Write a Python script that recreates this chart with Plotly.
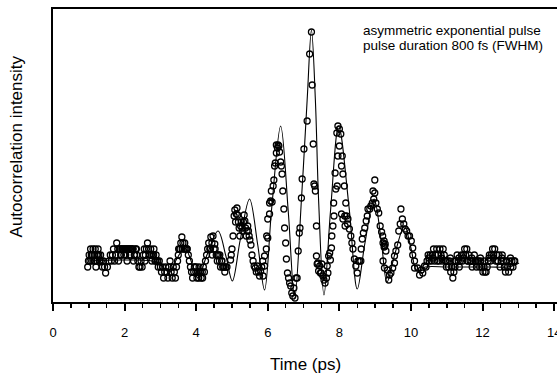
import plotly.graph_objects as go

# ---------------- measured data (arbitrary intensity units) ----------------
data_x = [
    # 1.0 - 1.45
    0.97, 0.99, 1.01, 1.03, 1.05, 1.08, 1.10, 1.12, 1.14, 1.16, 1.18, 1.20, 1.22, 1.24, 1.26, 1.28, 1.30, 1.33, 1.35, 1.38, 1.41, 1.44,
    1.07, 1.15, 1.23, 1.31,
    # 1.47 - 3.0
    1.47, 1.52, 1.56, 1.60, 1.63, 1.66, 1.69, 1.72, 1.75, 1.78, 1.81, 1.83, 1.86, 1.89, 1.92, 1.95, 1.98, 2.01, 2.04, 2.07,
    2.10, 2.13, 2.16, 2.19, 2.22, 2.25, 2.28, 2.31, 2.34, 2.37, 2.40, 2.43, 2.46, 2.49, 2.52, 2.55, 2.58, 2.61, 2.64, 2.67,
    2.70, 2.73, 2.76, 2.79, 2.82, 2.85, 2.88, 2.91, 2.94, 2.97, 3.00,
    1.88, 1.94, 2.00, 2.06, 2.12, 2.18, 2.24, 1.91, 2.03, 2.15, 2.27, 2.33, 2.57, 2.69, 2.75, 2.81, 2.87, 2.93,
    # 3.0 - 4.3
    3.03, 3.06, 3.09, 3.12, 3.15, 3.18, 3.21, 3.24, 3.27, 3.30, 3.33, 3.36, 3.39, 3.42, 3.45, 3.48, 3.51, 3.54, 3.57, 3.60,
    3.63, 3.66, 3.69, 3.72, 3.75, 3.78, 3.81, 3.84, 3.87, 3.90, 3.93, 3.96, 3.99, 4.02, 4.05, 4.08, 4.11, 4.14, 4.17, 4.20,
    4.23, 4.26,
    3.50, 3.55, 3.61, 3.68, 3.74, 3.95, 4.00, 4.07, 4.12, 4.18,
    # 4.3 - 5.0
    4.29, 4.32, 4.35, 4.38, 4.41, 4.44, 4.47, 4.50, 4.53, 4.56, 4.59, 4.62, 4.65, 4.68, 4.71, 4.74, 4.77, 4.80, 4.83, 4.86,
    4.40, 4.45, 4.52, 4.60, 4.66, 4.72, 4.78,
    4.96, 4.98, 5.00, 5.03,
    # 5.05 - 6.05
    5.06, 5.08, 5.10, 5.12, 5.14, 5.16, 5.18, 5.20, 5.22, 5.24, 5.26, 5.28, 5.30, 5.32, 5.34, 5.36, 5.38, 5.40, 5.42, 5.44,
    5.46, 5.48, 5.50, 5.53, 5.56, 5.59, 5.62, 5.65, 5.68, 5.71, 5.74, 5.77, 5.80, 5.83, 5.86,
    5.87, 5.91, 5.91, 5.96, 5.97, 6.00, 6.00,
    # 6.05 - 6.8
    6.05, 6.05, 6.08, 6.10, 6.12, 6.15, 6.17, 6.19, 6.21, 6.24, 6.24, 6.27, 6.29, 6.31, 6.33, 6.36, 6.38, 6.40, 6.42, 6.45,
    6.47, 6.50, 6.52, 6.55, 6.58, 6.61, 6.64, 6.67, 6.70, 6.73, 6.76, 6.79,
    # 6.8 - 7.6
    6.82, 6.85, 6.88, 6.90, 6.94, 6.96, 7.01, 7.10, 7.17, 7.22, 7.24, 7.27, 7.29, 7.31, 7.33, 7.36, 7.36,
    # 7.36 - 8.6
    7.38, 7.40, 7.42, 7.45, 7.47, 7.49, 7.51, 7.54, 7.57, 7.60, 7.64, 7.66, 7.68, 7.70, 7.73, 7.75, 7.78, 7.79, 7.82, 7.85,
    7.84, 7.90, 7.94, 7.88, 7.96, 8.00, 7.93, 7.96, 8.00, 8.04, 8.08, 8.06, 8.10, 8.14, 8.18, 8.20, 8.15, 8.24, 8.16, 8.23,
    8.06, 8.10, 8.28, 8.32, 8.35, 8.38, 8.42, 8.46, 8.50, 8.52, 8.56, 8.60,
    # 8.6 - 9.45
    8.61, 8.64, 8.67, 8.71, 8.75, 8.78, 8.80, 8.85, 8.88, 8.92, 8.96, 8.99, 8.94, 9.02, 8.99, 9.06, 9.10, 9.14, 9.18, 9.21,
    9.22, 9.25, 9.27, 9.28, 9.25, 9.30, 9.22, 9.26, 9.35, 9.40, 9.38, 9.44, 9.49,
    # 9.5 - 10.4
    9.54, 9.54, 9.58, 9.63, 9.66, 9.70, 9.72, 9.76, 9.80, 9.84, 9.88, 9.92, 9.96, 10.01, 10.05, 10.05, 10.10, 10.10, 10.19,
    10.24, 10.29, 10.33, 10.38,
    # 10.4 - 12.9
    10.42, 10.45, 10.48, 10.51, 10.54, 10.57, 10.60, 10.63, 10.66, 10.69, 10.72, 10.75, 10.78, 10.81, 10.84, 10.87, 10.90,
    10.93, 10.96, 10.99, 11.02, 11.05, 11.08, 11.11, 11.14, 11.17, 11.20, 11.23, 11.26, 11.29, 11.32, 11.35, 11.38, 11.41,
    11.44, 11.47, 11.50, 11.53, 11.56, 11.59, 11.62, 11.65, 11.68, 11.71, 11.74, 11.77, 11.80, 11.83, 11.86, 11.89, 11.92,
    11.95, 11.98, 12.01, 12.04, 12.07, 12.10, 12.13, 12.16, 12.19, 12.22, 12.25, 12.28, 12.31, 12.34, 12.37, 12.40, 12.43,
    12.46, 12.49, 12.52, 12.55, 12.58, 12.61, 12.64, 12.67, 12.70, 12.73, 12.76, 12.79, 12.82, 12.85, 12.88,
    10.50, 10.62, 10.74, 10.86, 10.98, 11.10, 11.22, 11.34, 11.46, 11.58, 11.70, 11.82, 11.94, 12.06, 12.18, 12.30, 12.42,
    12.54, 12.66, 12.78, 12.90,
]

data_y = [
    35, 41, 47, 41, 53, 41, 47, 53, 41, 47, 53, 35, 41, 47, 53, 47, 41, 47, 41, 35, 41, 35,
    47, 47, 47, 41,
    29, 35, 41, 47, 41, 47, 53, 41, 47, 59, 53, 41, 53, 47, 53, 53, 47, 53, 53, 41,
    53, 53, 47, 53, 53, 41, 47, 53, 47, 41, 35, 35, 41, 35, 47, 53, 47, 53, 59, 53,
    47, 53, 41, 47, 53, 41, 47, 41, 35, 41, 35,
    53, 53, 53, 53, 53, 53, 53, 47, 47, 47, 47, 53, 41, 47, 47, 47, 41, 41,
    30, 35, 24, 30, 35, 30, 24, 35, 41, 30, 24, 35, 30, 24, 35, 41, 53, 53, 59, 65,
    59, 53, 53, 53, 53, 47, 41, 35, 30, 24, 30, 35, 30, 24, 30, 35, 30, 24, 30, 35,
    30, 41,
    47, 53, 53, 59, 53, 35, 35, 24, 30, 24,
    47, 53, 59, 53, 65, 59, 66, 53, 53, 47, 41, 47, 41, 35, 41, 35, 35, 30, 35, 35,
    53, 47, 58, 47, 47, 41, 35,
    42, 47, 53, 66,
    86, 92, 80, 88, 94, 87, 80, 74, 66, 76, 80, 74, 71, 80, 87, 81, 74, 66, 71, 76,
    71, 66, 62, 57, 47, 41, 36, 34, 30, 36, 30, 26, 31, 35, 41,
    26, 46, 36, 53, 66, 64, 83,
    88, 99, 101, 111, 100, 116, 122, 136, 139, 149, 157, 154, 157, 156, 150, 140, 136, 128, 111, 93,
    74, 59, 43, 29, 24, 19, 16, 9, 6, 14, 4, 24,
    24, 51, 69, 74, 104, 123, 153, 181, 248, 270, 217, 158, 118, 116, 111, 76, 46,
    38, 39, 31, 36, 29, 29, 38, 26, 22, 19, 24, 36, 29, 46, 49, 42, 54, 66, 76, 86,
    99, 113, 116, 129, 146, 156, 169, 176, 173, 168, 146, 136, 128, 116, 99, 86, 86, 83, 76, 78,
    88, 83, 73, 66, 59, 53, 43, 36, 29, 41, 41, 41,
    53, 63, 69, 74, 81, 86, 93, 93, 96, 99, 103, 109, 111, 99, 122, 93, 89, 76, 70, 66,
    59, 61, 56, 58, 55, 51, 41, 34, 32, 27, 22, 29, 34,
    39, 46, 51, 57, 71, 78, 93, 83, 78, 73, 71, 66, 66, 61, 54, 47, 41, 34, 34,
    27, 32, 29, 36,
    35, 41, 47, 41, 47, 41, 47, 53, 41, 47, 53, 47, 41, 53, 47, 41, 53,
    47, 41, 35, 41, 35, 41, 30, 35, 24, 30, 35, 41, 47, 41, 35, 41, 47,
    41, 47, 53, 47, 53, 41, 47, 41, 41, 35, 41, 47, 41, 35, 41, 41, 35,
    41, 35, 30, 35, 30, 30, 35, 41, 47, 41, 47, 53, 47, 53, 41, 47, 41,
    47, 35, 41, 47, 41, 35, 30, 41, 35, 30, 41, 35, 41, 35, 41,
    44, 44, 41, 44, 41, 44, 41, 44, 44, 41, 44, 41, 44, 41, 44, 44, 41,
    44, 41, 44, 41,
]

# fitted curve
fit_x = [1.0, 2.0, 2.9, 3.25, 3.44, 3.68, 3.88, 4.05, 4.30, 4.61, 4.83, 5.01, 5.23, 5.49, 5.72, 5.91, 6.11, 6.36,
         6.575, 6.75, 6.94, 7.10, 7.22, 7.33, 7.42, 7.57, 7.755, 7.98, 8.27, 8.50, 8.71, 8.97, 9.17, 9.33, 9.55, 9.82,
         10.00, 10.17, 10.40, 11.0, 11.6, 12.2, 12.7, 12.9, 13.02]
fit_y = [41, 42, 40, 30, 42, 54, 39, 24, 47, 71, 46, 21, 62, 103, 57, 12, 94, 176,
         89, 3, 102, 202, 272, 202, 102, 7, 92, 176, 95, 13, 58, 103, 61, 20, 48, 76,
         54, 31, 35, 35, 35, 35, 35, 37, 39]

x_tick_vals = [0, 2, 4, 6, 8, 10, 12, 14]
x_tick_text = ["0", "2", "4", "6", "8", "10", "12", "14"]

FONT = "Liberation Sans, Arial, Helvetica, sans-serif"

fig = go.Figure()
fig.add_trace(go.Scatter(
    x=fit_x, y=fit_y, mode="lines",
    line=dict(color="black", width=1.1, shape="spline", smoothing=1.0),
    hoverinfo="skip", showlegend=False))
fig.add_trace(go.Scatter(
    x=data_x, y=data_y, mode="markers",
    marker=dict(symbol="circle-open", size=6, color="black", line=dict(width=1.3, color="black")),
    hoverinfo="skip", showlegend=False))

fig.update_layout(
    width=557, height=378,
    margin=dict(l=53, r=0, t=9, b=76, autoexpand=False),
    paper_bgcolor="white", plot_bgcolor="white",
    font=dict(family=FONT, color="black"),
    hovermode=False,
    xaxis=dict(
        range=[0, 14.08], showgrid=False, zeroline=False, automargin=False,
        showline=True, linecolor="black", linewidth=2, mirror=True,
        tickmode="array", tickvals=x_tick_vals, ticktext=x_tick_text,
        ticks="outside", ticklen=7, tickwidth=2, tickcolor="black",
        ticklabelstandoff=10, ticklabeloverflow="allow",
        tickfont=dict(size=13, family=FONT, color="black"),
        minor=dict(dtick=0.5, ticks="outside", ticklen=4, tickwidth=1.5, tickcolor="black", showgrid=False),
    ),
    yaxis=dict(
        range=[0, 293], showgrid=False, zeroline=False, automargin=False,
        showline=True, linecolor="black", linewidth=2,
        showticklabels=False, ticks="",
    ),
    annotations=[
        dict(text="Time (ps)", xref="paper", yref="paper", x=0.5, y=-0.215,
             xanchor="center", yanchor="middle", showarrow=False,
             font=dict(size=17, family=FONT, color="black")),
        dict(text="Autocorrelation intensity", xref="paper", yref="paper", x=-0.072, y=0.53,
             xanchor="center", yanchor="middle", showarrow=False, textangle=-90,
             font=dict(size=17, family=FONT, color="black")),
        dict(text="asymmetric exponential pulse", xref="paper", yref="paper", x=0.612, y=0.925,
             xanchor="left", yanchor="middle", showarrow=False,
             font=dict(size=13.5, family=FONT, color="black")),
        dict(text="pulse duration 800 fs (FWHM)", xref="paper", yref="paper", x=0.612, y=0.876,
             xanchor="left", yanchor="middle", showarrow=False,
             font=dict(size=13.5, family=FONT, color="black")),
    ],
)

fig.write_html(
    "out.html",
    config={"displayModeBar": False, "staticPlot": True},
    post_script="document.body.style.margin='0px';document.body.style.overflow='hidden';",
)
